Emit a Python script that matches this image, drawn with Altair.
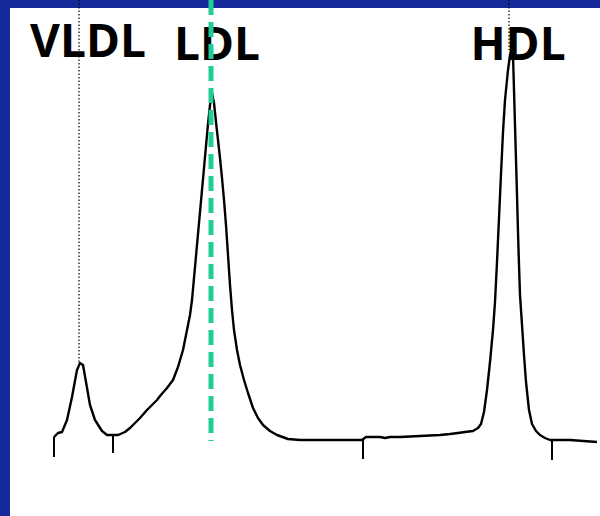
import altair as alt
import pandas as pd

W, H = 600, 516

# Chromatogram trace (position, pixel row of the trace)
trace_x = [54, 58, 62, 67, 72, 77, 80, 83, 86, 90, 95, 102, 107, 113, 118, 125, 130, 140, 147, 157,
           160, 167, 173, 178, 183, 187, 190, 192, 194, 196, 198, 200, 202, 204, 206, 208, 210, 212,
           214, 216, 218, 220, 222, 224, 226, 228, 230, 232, 234, 237, 240, 244, 248, 253, 258, 263,
           270, 277, 288, 300, 330, 362, 366, 380, 385, 390, 400, 420, 440, 450, 458, 465, 473, 478,
           481, 484, 487, 490, 493, 495, 497, 499, 501, 503, 505, 508, 510, 512, 513, 514, 515, 516,
           517, 518, 519, 520, 522, 524, 526, 529, 532, 536, 540, 545, 550, 556, 570, 597]
trace_ypix = [437, 433, 432, 420, 397, 370, 363, 365, 382, 405, 420, 431, 435, 435, 435, 432, 428, 418, 410, 400,
              396, 388, 380, 367, 350, 330, 315, 300, 278, 256, 234, 212, 190, 168, 146, 124, 105, 93,
              103, 122, 140, 158, 178, 200, 225, 255, 285, 310, 330, 350, 365, 380, 393, 408, 418, 425,
              431, 435, 439, 440, 440, 440, 437, 437, 438, 437, 437, 436, 435, 434, 433, 432, 431, 428,
              424, 412, 390, 362, 330, 302, 262, 218, 174, 132, 100, 70, 55, 48, 55, 90, 125, 160,
              195, 232, 265, 295, 325, 355, 382, 410, 424, 431, 435, 438, 440, 440, 440, 442]
trace_y = [H - v for v in trace_ypix]

# Fraction collection ticks
tick_x = [54, 113, 363, 552]
tick_top = [H - 437, H - 435, H - 438, H - 441]
tick_bot = [H - 457, H - 453, H - 459, H - 460]

# Peak labels
labels = ["VLDL", "LDL", "HDL"]
label_x = [88, 217, 518]
label_y = [H - 57, H - 60, H - 60]

# Peak marker lines
peak_x = [79, 509]
peak_top = [H, H]
peak_bot = [H - 363, H - 50]
ldl_x = [211]
ldl_top = [H]
ldl_bot = [H - 441]

xs = alt.Scale(domain=[0, W], nice=False, zero=False)
ys = alt.Scale(domain=[0, H], nice=False, zero=False)

trace = pd.DataFrame({"x": trace_x, "y": trace_y})
ticks = pd.DataFrame({"x": tick_x, "y": tick_top, "y2": tick_bot})
labs = pd.DataFrame({"x": label_x, "y": label_y, "t": labels})
peaks = pd.DataFrame({"x": peak_x, "y": peak_top, "y2": peak_bot})
ldl = pd.DataFrame({"x": ldl_x, "y": ldl_top, "y2": ldl_bot})

X = alt.X("x:Q", scale=xs, axis=None)
Y = alt.Y("y:Q", scale=ys, axis=None)

dotted = alt.Chart(peaks).mark_rule(color="black", strokeWidth=1.2, strokeDash=[1.5, 2]).encode(
    x=X, y=Y, y2="y2:Q")

line = alt.Chart(trace).mark_line(color="black", strokeWidth=2.4, interpolate="linear",
                                  strokeJoin="round").encode(
    x=X, y=Y, order=alt.Order("x:Q"))

tk = alt.Chart(ticks).mark_rule(color="black", strokeWidth=2).encode(x=X, y=Y, y2="y2:Q")

dash = alt.Chart(ldl).mark_rule(color="#22cc99", strokeWidth=5, strokeDash=[15, 7]).encode(
    x=X, y=Y, y2="y2:Q")

txt = alt.Chart(labs).mark_text(font="Open Sans", fontWeight="bold", fontSize=46,
                                 baseline="alphabetic", align="center", color="black").encode(
    x=X, y=Y, text="t:N")

border_left = alt.Chart(pd.DataFrame({"a": [0]})).mark_rect(color="#15299b").encode(
    x=alt.value(0), x2=alt.value(10), y=alt.value(0), y2=alt.value(H))
border_top = alt.Chart(pd.DataFrame({"a": [0]})).mark_rect(color="#15299b").encode(
    x=alt.value(0), x2=alt.value(W), y=alt.value(0), y2=alt.value(8))

chart = alt.layer(border_left, border_top, dotted, line, tk, txt, dash).properties(
    width=W, height=H, padding=0, autosize="none", background="white"
).configure_view(stroke=None)

chart.save("out.html", embed_options={"renderer": "svg", "actions": False})
